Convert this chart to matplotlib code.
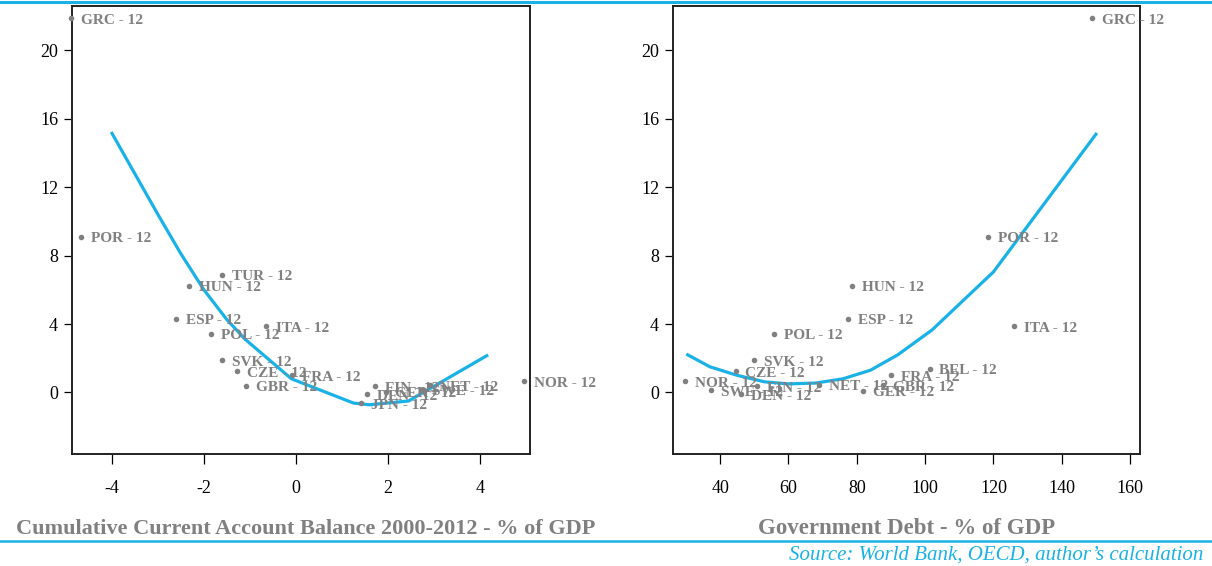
import matplotlib
matplotlib.use("Agg")
import matplotlib.pyplot as plt
from matplotlib.lines import Line2D

# ---- data -------------------------------------------------------------
# y: same value per country in both panels
ca_countries = ["GRC", "POR", "TUR", "HUN", "ESP", "POL", "ITA", "SVK", "CZE",
                "FRA", "GBR", "FIN", "DEN", "GER", "JPN", "SWE", "NET", "NOR"]
ca_balance = [-4.89, -4.67, -1.61, -2.33, -2.61, -1.85, -0.65, -1.61, -1.28,
              -0.09, -1.09, 1.72, 1.55, 1.95, 1.41, 2.74, 2.91, 4.97]
ca_y = [21.9, 9.1, 6.88, 6.25, 4.3, 3.44, 3.87, 1.88, 1.24,
        1.0, 0.4, 0.35, -0.12, 0.05, -0.64, 0.16, 0.43, 0.66]

debt_countries = ["GRC", "POR", "HUN", "ESP", "POL", "ITA", "SVK", "CZE", "NOR",
                  "SWE", "DEN", "FIN", "NET", "GER", "GBR", "FRA", "BEL"]
debt_gdp = [148.9, 118.4, 78.6, 77.5, 55.8, 126.0, 49.9, 44.5, 29.8,
            37.4, 46.1, 50.9, 68.9, 81.8, 87.8, 90.1, 101.3]
debt_y = [21.9, 9.1, 6.25, 4.3, 3.44, 3.87, 1.88, 1.24, 0.66,
          0.14, -0.1, 0.37, 0.45, 0.1, 0.42, 1.0, 1.4]

# fitted curves
ca_fit_x = [-4.0, -3.0, -2.5, -2.0, -1.5, -1.1, -0.1, 1.25, 1.6, 2.45, 4.15]
ca_fit_y = [15.15, 10.4, 8.1, 6.0, 4.25, 3.1, 0.8, -0.62, -0.72, -0.5, 2.15]

debt_fit_x = [30.5, 37, 45, 53, 60, 68, 76, 84, 92, 102, 120, 150]
debt_fit_y = [2.2, 1.5, 1.0, 0.62, 0.5, 0.55, 0.8, 1.3, 2.2, 3.65, 7.05, 15.1]

y_ticks = [0, 4, 8, 12, 16, 20]
ca_ticks = [-4, -2, 0, 2, 4]
debt_ticks = [40, 60, 80, 100, 120, 140, 160]

ca_title = "Cumulative Current Account Balance 2000-2012 - % of GDP"
debt_title = "Government Debt - % of GDP"
source = "Source: World Bank, OECD, author\u2019s calculation"

# ---- style ------------------------------------------------------------
CYAN = "#1ab2e6"
GREY = "#808080"
SERIF = ["Liberation Serif", "DejaVu Serif"]
plt.rcParams["font.family"] = SERIF
plt.rcParams["axes.unicode_minus"] = False

fig = plt.figure(figsize=(12.12, 5.66), dpi=100)

ax1 = fig.add_axes([72 / 1212, 1 - 454 / 566, 458 / 1212, 448 / 566])
ax2 = fig.add_axes([673 / 1212, 1 - 454 / 566, 467 / 1212, 448 / 566])


def panel(ax, xs, ys, names, fx, fy, xticks, xlim):
    ax.plot(fx, fy, color=CYAN, lw=2.3, solid_joinstyle="round", zorder=2)
    ax.scatter(xs, ys, s=16, color=GREY, zorder=3, linewidths=0, clip_on=False)
    for x, y, n in zip(xs, ys, names):
        ax.annotate(f"{n} - 12", (x, y), xytext=(7, -1.5),
                    textcoords="offset points", va="center", ha="left",
                    fontsize=11, fontweight="bold", color=GREY, zorder=4,
                    annotation_clip=False)
    ax.set_xlim(*xlim)
    ax.set_ylim(-3.6, 22.6)
    ax.set_xticks(xticks)
    ax.set_yticks(y_ticks)
    ax.tick_params(axis="x", length=7, width=0.9, pad=12, labelsize=13,
                   direction="out")
    ax.tick_params(axis="y", length=6, width=0.9, pad=4, labelsize=13,
                   direction="out")
    for sp in ax.spines.values():
        sp.set_color("#222222")
        sp.set_linewidth(1.4)


panel(ax1, ca_balance, ca_y, ca_countries, ca_fit_x, ca_fit_y,
      ca_ticks, (-4.87, 5.09))
panel(ax2, debt_gdp, debt_y, debt_countries, debt_fit_x, debt_fit_y,
      debt_ticks, (26.2, 162.9))

# axis captions under each panel
fig.text(306 / 1212, 1 - 529 / 566, ca_title, ha="center", va="center",
         fontsize=16, fontweight="bold", color=GREY)
fig.text(907 / 1212, 1 - 529 / 566, debt_title, ha="center", va="center",
         fontsize=16.5, fontweight="bold", color=GREY)

# rules at top and bottom
fig.add_artist(Line2D([0, 1], [1 - 2 / 566, 1 - 2 / 566], color=CYAN, lw=2.2,
                      transform=fig.transFigure))
fig.add_artist(Line2D([0, 1], [1 - 541 / 566, 1 - 541 / 566], color=CYAN,
                      lw=1.8, transform=fig.transFigure))

fig.text(1203 / 1212, 1 - 555 / 566, source, ha="right", va="center",
         fontsize=15, style="italic", color=CYAN)

fig.savefig("out.png", dpi=100)
